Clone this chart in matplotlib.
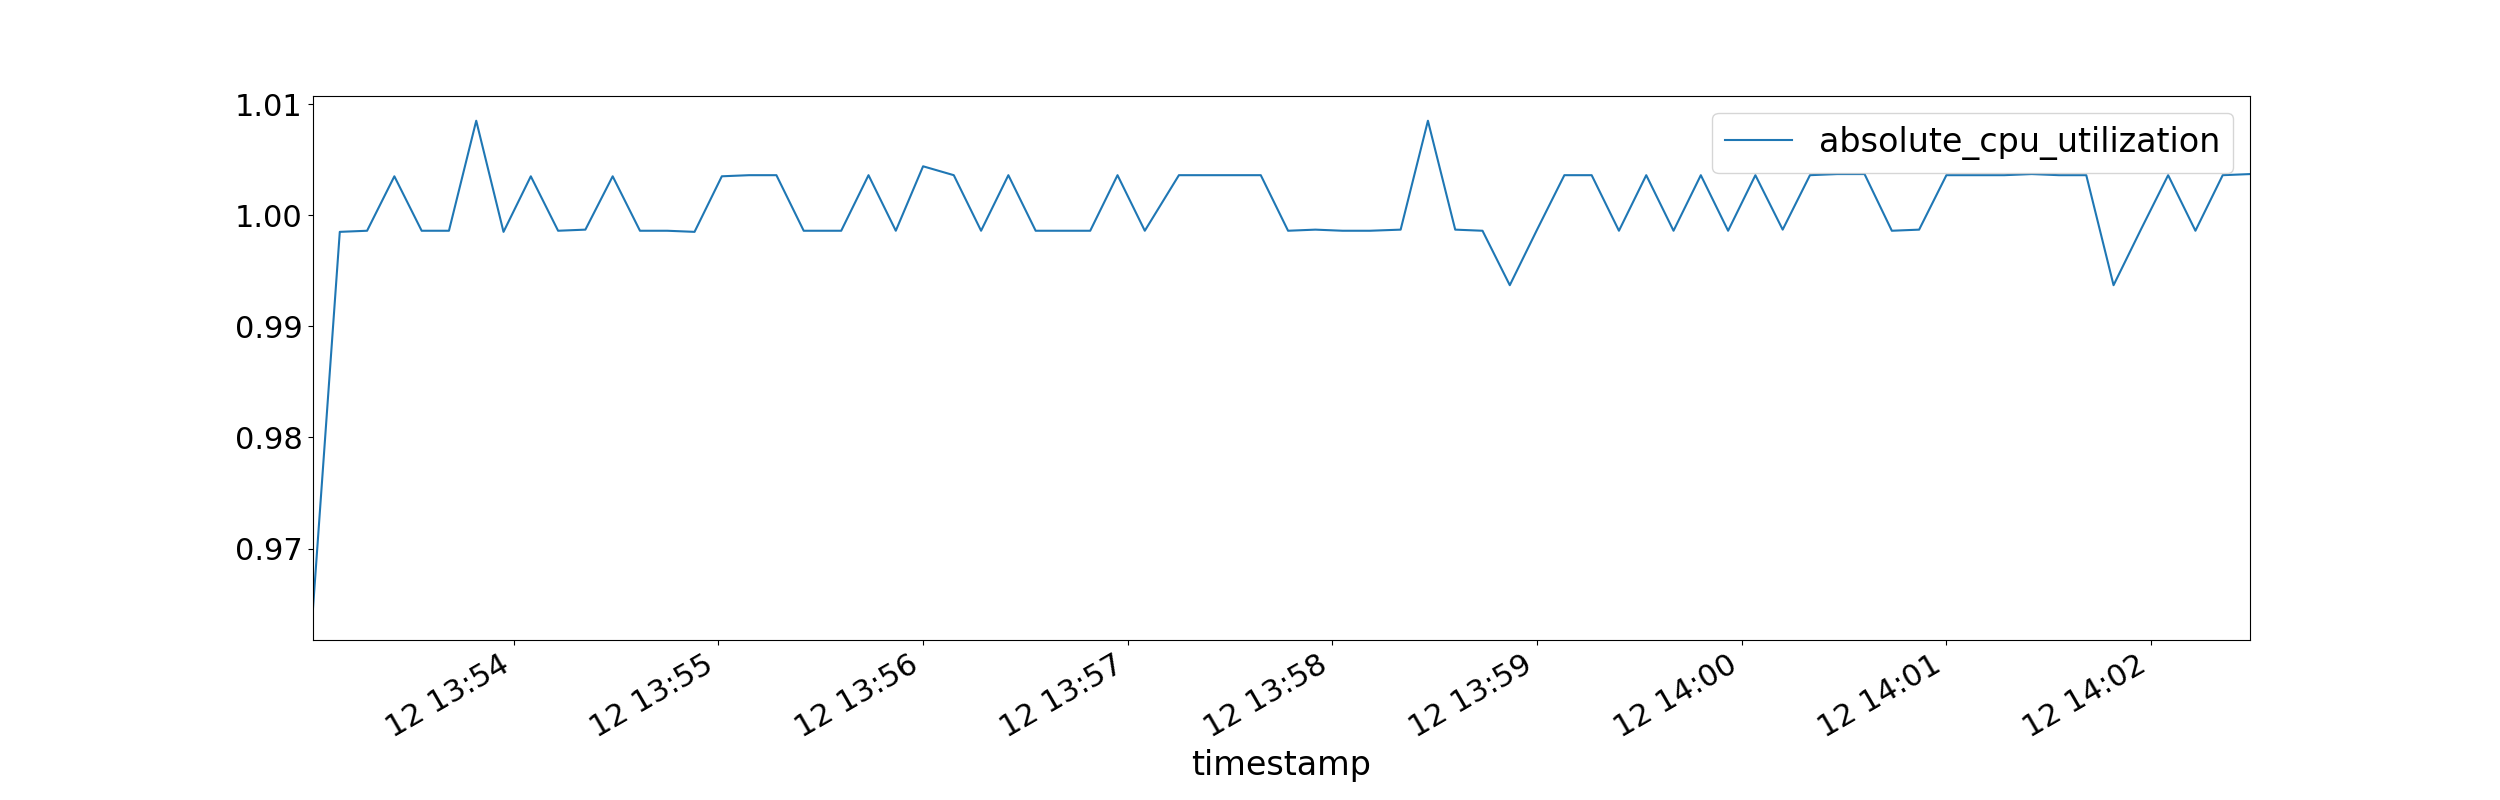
import numpy as np
import pandas as pd
import matplotlib
matplotlib.use("Agg")
import matplotlib.pyplot as plt
import matplotlib.dates as mdates

## Tidspunkter (12. dag, hh:mm:ss)
times = ["13:53:01", "13:53:09", "13:53:17", "13:53:25", "13:53:33", "13:53:41", "13:53:49", "13:53:57",
         "13:54:05", "13:54:13", "13:54:21", "13:54:29", "13:54:37", "13:54:45", "13:54:53", "13:55:01",
         "13:55:09", "13:55:17", "13:55:25", "13:55:36", "13:55:44", "13:55:52", "13:56:00", "13:56:09",
         "13:56:17", "13:56:25", "13:56:33", "13:56:41", "13:56:49", "13:56:57", "13:57:05", "13:57:15",
         "13:57:23", "13:57:31", "13:57:39", "13:57:47", "13:57:55", "13:58:03", "13:58:11", "13:58:20",
         "13:58:28", "13:58:36", "13:58:44", "13:58:52", "13:59:00", "13:59:08", "13:59:16", "13:59:24",
         "13:59:32", "13:59:40", "13:59:48", "13:59:56", "14:00:04", "14:00:12", "14:00:20", "14:00:28",
         "14:00:36", "14:00:44", "14:00:52", "14:01:00", "14:01:09", "14:01:17", "14:01:25", "14:01:33",
         "14:01:41", "14:01:49", "14:01:57", "14:02:05", "14:02:13", "14:02:21", "14:02:29"]

cpu = [0.9640, 0.9985, 0.9986, 1.0035, 0.9986, 0.9986, 1.0085, 0.9985,
       1.0035, 0.9986, 0.9987, 1.0035, 0.9986, 0.9986, 0.9985, 1.0035,
       1.0036, 1.0036, 0.9986, 0.9986, 1.0036, 0.9986, 1.0044, 1.0036,
       0.9986, 1.0036, 0.9986, 0.9986, 0.9986, 1.0036, 0.9986, 1.0036,
       1.0036, 1.0036, 1.0036, 0.9986, 0.9987, 0.9986, 0.9986, 0.9987,
       1.0085, 0.9987, 0.9986, 0.9937, 0.9987, 1.0036, 1.0036, 0.9986,
       1.0036, 0.9986, 1.0036, 0.9986, 1.0036, 0.9987, 1.0036, 1.0037,
       1.0037, 0.9986, 0.9987, 1.0036, 1.0036, 1.0036, 1.0037, 1.0036,
       1.0036, 0.9937, 0.9987, 1.0036, 0.9986, 1.0036, 1.0037]

timestamp = pd.to_datetime(["2021-01-12 " + t for t in times])

fig, ax = plt.subplots(figsize=(25, 8), dpi=100)
ax.plot(timestamp, cpu, color="#1f77b4", label="absolute_cpu_utilization")
ax.set_xlim(timestamp[0], timestamp[-1])
ax.xaxis.set_major_locator(mdates.MinuteLocator())
ax.xaxis.set_major_formatter(mdates.DateFormatter("%d %H:%M"))
ax.tick_params(labelsize=22)
ax.set_xlabel("timestamp", fontsize=24)
ax.legend(loc="upper right", fontsize=24)
fig.autofmt_xdate()
fig.savefig("out.png")
